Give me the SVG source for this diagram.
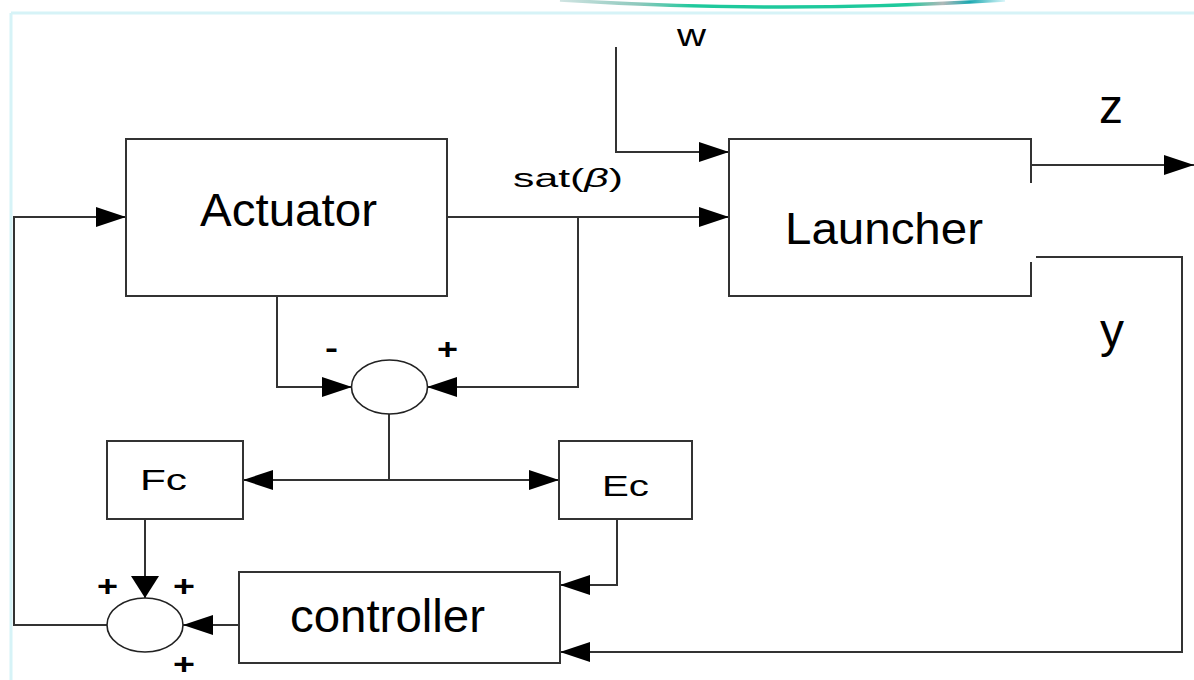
<svg xmlns="http://www.w3.org/2000/svg" width="1194" height="680" viewBox="0 0 1194 680">
<style>
.box{fill:#fff;stroke:#333;stroke-width:2}
.sum{fill:#fff;stroke:#222;stroke-width:1.6}
.ln{fill:none;stroke:#333;stroke-width:2}
.t{font-family:"Liberation Sans",Arial,sans-serif;fill:#000}
.sg{font-weight:bold}
</style>
<defs>
<marker id="ah" markerUnits="userSpaceOnUse" markerWidth="30" markerHeight="20" refX="30" refY="10" orient="auto">
<path d="M0,0 L30,10 L0,20 Z" fill="#000"/>
</marker>
<marker id="ah2" markerUnits="userSpaceOnUse" markerWidth="22" markerHeight="28" refX="22" refY="14" orient="auto">
<path d="M0,0 L22,14 L0,28 Z" fill="#000"/>
</marker>
<linearGradient id="arcg" x1="560" y1="0" x2="1005" y2="0" gradientUnits="userSpaceOnUse">
<stop offset="0" stop-color="#d0e4e2"/>
<stop offset="0.18" stop-color="#8cc8bc"/>
<stop offset="0.3" stop-color="#1ec99c"/>
<stop offset="0.78" stop-color="#1ec99c"/>
<stop offset="0.86" stop-color="#b0b8b8"/>
<stop offset="0.92" stop-color="#1aa8b0"/>
<stop offset="1" stop-color="#d8f6fa"/>
</linearGradient>
</defs>
<rect width="1194" height="680" fill="#fff"/>
<g id="frame">
<path d="M560,0 Q783,14 1005,0" fill="none" stroke="url(#arcg)" stroke-width="3.5"/>
<path d="M11,13 H1194 M11,13 V680" fill="none" stroke="#d6f3f7" stroke-width="3"/>
</g>
<g id="connectors">
<path class="ln" d="M616,47 V152 H729" marker-end="url(#ah)"/>
<path class="ln" d="M447,217 H729" marker-end="url(#ah)"/>
<path class="ln" d="M578,217 V387 H427" marker-end="url(#ah)"/>
<path class="ln" d="M277,296 V387 H352" marker-end="url(#ah)"/>
<path class="ln" d="M389,414 V480"/>
<path class="ln" d="M389,480 H243" marker-end="url(#ah)"/>
<path class="ln" d="M389,480 H559" marker-end="url(#ah)"/>
<path class="ln" d="M617,519 V585 H560" marker-end="url(#ah)"/>
<path class="ln" d="M145,519 V598" marker-end="url(#ah2)"/>
<path class="ln" d="M239,625 H183" marker-end="url(#ah)"/>
<path class="ln" d="M107,625 H14 V217 H126" marker-end="url(#ah)"/>
<path class="ln" d="M1031,165 H1194" marker-end="url(#ah)"/>
<path class="ln" d="M1036,257 H1182 V652 H560" marker-end="url(#ah)"/>
</g>
<g id="actuator">
<rect class="box" x="126" y="139" width="321" height="157"/>
<text class="t" x="200" y="226" font-size="47" textLength="177" lengthAdjust="spacingAndGlyphs">Actuator</text>
</g>
<g id="launcher">
<path class="box" d="M1031,183 V139 H729 V296 H1031 V262"/>
<text class="t" x="785" y="244" font-size="44" textLength="198" lengthAdjust="spacingAndGlyphs">Launcher</text>
</g>
<g id="sum1">
<ellipse class="sum" cx="389.5" cy="387" rx="38" ry="27"/>
<text class="t sg" x="325" y="358" font-size="30" textLength="13" lengthAdjust="spacingAndGlyphs">-</text>
<text class="t sg" x="437" y="358.5" font-size="30" textLength="21" lengthAdjust="spacingAndGlyphs">+</text>
</g>
<g id="fc">
<rect class="box" x="107" y="441" width="136" height="78"/>
<text class="t" x="140" y="490" font-size="30" textLength="47" lengthAdjust="spacingAndGlyphs">Fc</text>
</g>
<g id="ec">
<rect class="box" x="559" y="441" width="133" height="78"/>
<text class="t" x="602" y="496" font-size="29" textLength="47" lengthAdjust="spacingAndGlyphs">Ec</text>
</g>
<g id="controller">
<rect class="box" x="239" y="572" width="321" height="91"/>
<text class="t" x="290" y="632" font-size="47" textLength="195" lengthAdjust="spacingAndGlyphs">controller</text>
</g>
<g id="sum2">
<ellipse class="sum" cx="145" cy="625" rx="38" ry="27"/>
<text class="t sg" x="97" y="595.5" font-size="30" textLength="21" lengthAdjust="spacingAndGlyphs">+</text>
<text class="t sg" x="173" y="595.5" font-size="30" textLength="22" lengthAdjust="spacingAndGlyphs">+</text>
<text class="t sg" x="173" y="673.5" font-size="30" textLength="22" lengthAdjust="spacingAndGlyphs">+</text>
</g>
<g id="labels">
<text class="t" x="677" y="46" font-size="31" textLength="29" lengthAdjust="spacingAndGlyphs">w</text>
<text class="t" x="513" y="187" font-size="26" textLength="110" lengthAdjust="spacingAndGlyphs">sat(<tspan font-style="italic">β</tspan>)</text>
<text class="t" x="1099" y="123" font-size="48">z</text>
<text class="t" x="1100" y="347" font-size="48">y</text>
</g>
</svg>
